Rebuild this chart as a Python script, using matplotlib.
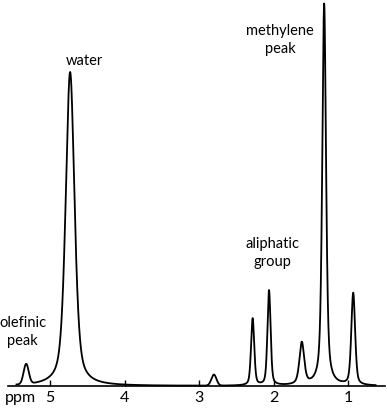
import numpy as np
import matplotlib
matplotlib.use("Agg")
from matplotlib import pyplot as plt

# peaks: centre (ppm), height (px above baseline), fwhm (ppm), lorentzian fraction
centers = [5.32, 4.73, 2.80, 2.28, 2.06, 1.62, 1.32, 0.93]
heights = [20, 314, 11, 67, 95, 42, 382, 92]
widths = [0.08, 0.14, 0.08, 0.05, 0.05, 0.075, 0.06, 0.06]
eta = [0.0, 0.5, 0.0, 0.4, 0.4, 0.5, 0.55, 0.4]

tick_pos = [5, 4, 3, 2, 1]
tick_lab = ["5", "4", "3", "2", "1"]

labels = ["water", "methylene\npeak", "aliphatic\ngroup", "olefinic\npeak"]
label_x = [4.54, 1.91, 2.02, 5.365]
label_y = [325, 346, 133, 54]


def peak(x, c, h, w, e):
    g = np.exp(-4 * np.log(2) * (x - c) ** 2 / w ** 2)
    l = (w / 2) ** 2 / ((x - c) ** 2 + (w / 2) ** 2)
    return h * ((1 - e) * g + e * l)


x = np.linspace(5.45, 0.63, 4000)
y = np.zeros_like(x)
for c, h, w, e in zip(centers, heights, widths, eta):
    y += peak(x, c, h, w, e)

fig = plt.figure(figsize=(3.87, 4.08), dpi=100)
ax = fig.add_axes([0, 0, 1, 1])
ax.set_xlim(5 + 50 / 74.5, 5 - 337 / 74.5)
ax.set_ylim(-22, 386)
ax.axis("off")

ax.plot(x, y, color="black", lw=1.3)
ax.plot([5.56, 0.50], [0, 0], color="black", lw=1.2)
ax.vlines(tick_pos, 0, 6, color="black", lw=1)

font = "Lato"
for p, t in zip(tick_pos, tick_lab):
    ax.text(p, -12, t, ha="center", va="center", fontsize=11.5, family=font)
ax.text(5.40, -12, "ppm", ha="center", va="center", fontsize=11.5, family=font)

for t, lx, ly in zip(labels, label_x, label_y):
    ax.text(lx, ly, t, ha="center", va="center", fontsize=10.5, family=font, linespacing=1.45)

fig.savefig("out.png", dpi=100)
